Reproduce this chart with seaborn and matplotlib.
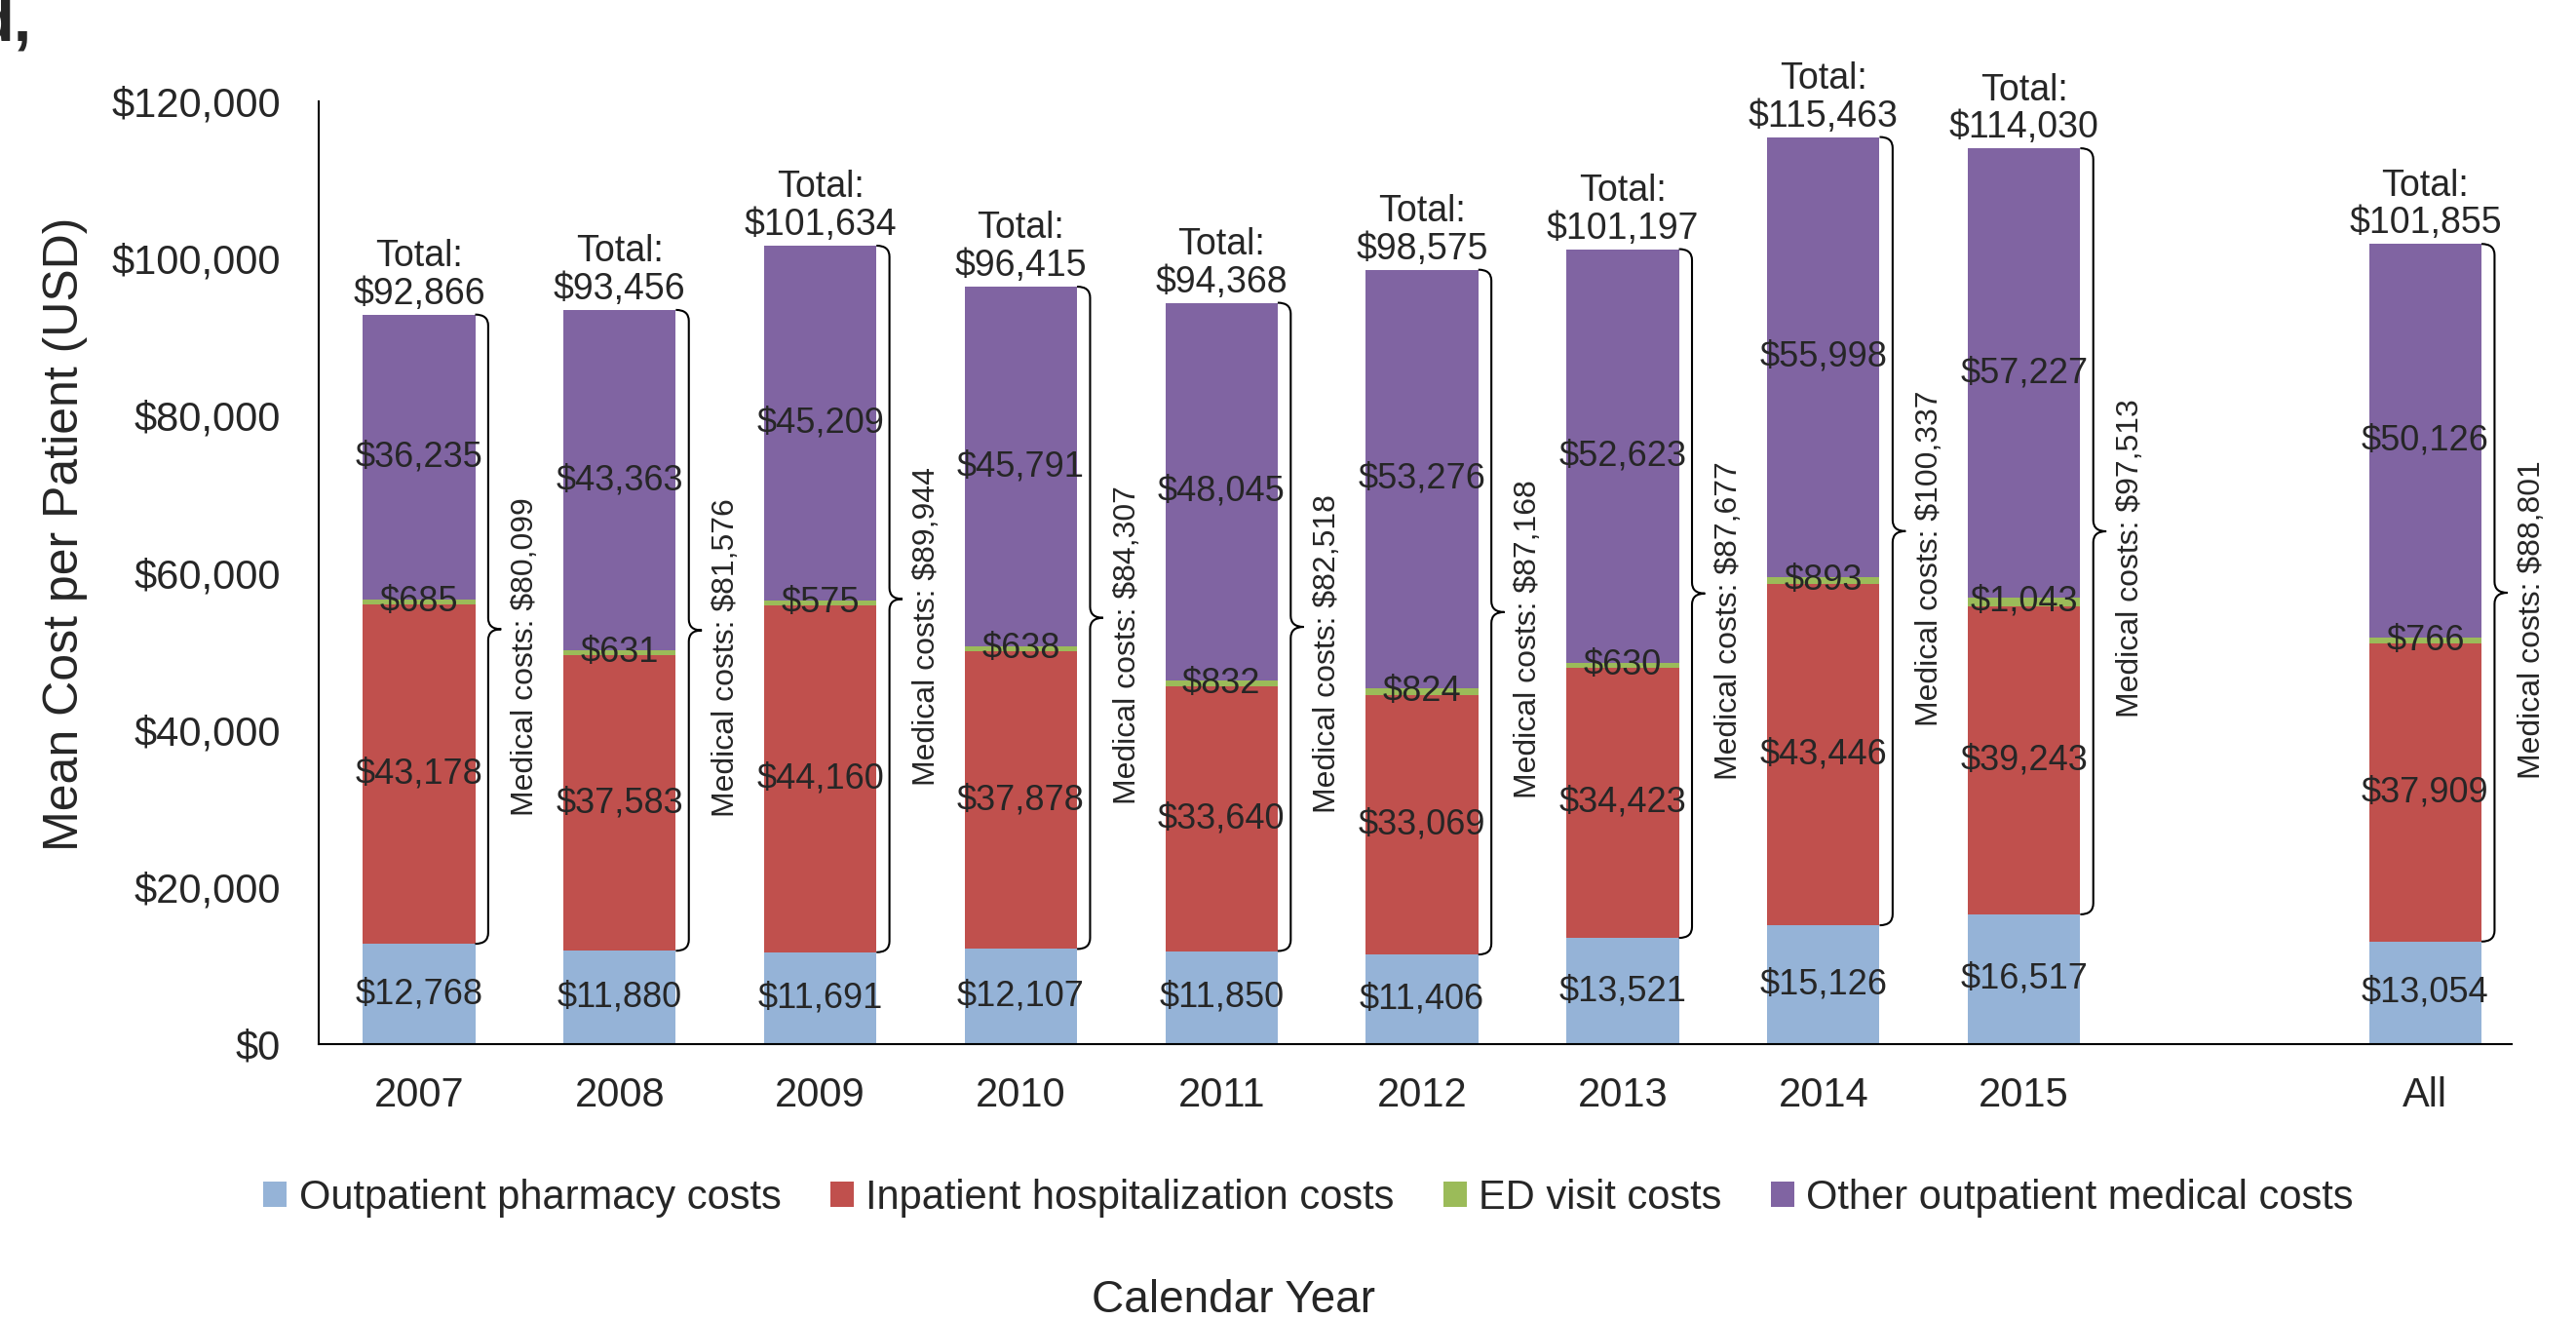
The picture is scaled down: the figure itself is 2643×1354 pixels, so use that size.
import numpy as np
import pandas as pd
import seaborn as sns
import matplotlib.pyplot as plt
from matplotlib.path import Path
from matplotlib.patches import PathPatch, Patch

# values
years = ['2007', '2008', '2009', '2010', '2011', '2012', '2013', '2014', '2015', 'All']
pharmacy = [12768, 11880, 11691, 12107, 11850, 11406, 13521, 15126, 16517, 13054]
inpatient = [43178, 37583, 44160, 37878, 33640, 33069, 34423, 43446, 39243, 37909]
ed_visit = [685, 631, 575, 638, 832, 824, 630, 893, 1043, 766]
other_outpatient = [36235, 43363, 45209, 45791, 48045, 53276, 52623, 55998, 57227, 50126]
totals = [92866, 93456, 101634, 96415, 94368, 98575, 101197, 115463, 114030, 101855]
medical = [80099, 81576, 89944, 84307, 82518, 87168, 87677, 100337, 97513, 88801]

series_names = ['Outpatient pharmacy costs', 'Inpatient hospitalization costs',
                'ED visit costs', 'Other outpatient medical costs']
colors = ['#95B3D7', '#C0504D', '#9BBB59', '#8064A2']

# empty slot between 2015 and All
order = years[:9] + [' '] + ['All']

sns.set_style('white')
plt.rcParams['font.family'] = ['Liberation Sans', 'DejaVu Sans']

df = pd.DataFrame({'year': years, 'pharm': pharmacy, 'inp': inpatient,
                   'ed': ed_visit, 'oth': other_outpatient})
cols = ['pharm', 'inp', 'ed', 'oth']
cum = df[cols].cumsum(axis=1)

fig = plt.figure(figsize=(26.43, 13.54), dpi=100)
ax = fig.add_axes([0.1237, 0.209, 0.8513, 0.7142])

bar_w = 0.56
# draw cumulative bars from the top layer down so they stack
for col, c in reversed(list(zip(cols, colors))):
    sns.barplot(x=df['year'], y=cum[col], order=order, color=c, saturation=1,
                width=bar_w, errorbar=None, linewidth=0, ax=ax)

ax.set_ylim(0, 120000)
ax.set_xlim(-0.5, 10.43)
ax.set_yticks(np.arange(0, 120001, 20000))
ax.yaxis.set_major_formatter(plt.FuncFormatter(lambda v, p: f'${v:,.0f}'))
ax.set_xlabel('')
ax.set_ylabel('')
ax.tick_params(axis='y', labelsize=30, length=0, pad=28)
ax.tick_params(axis='x', labelsize=30, length=0, pad=24)
for s in ['top', 'right']:
    ax.spines[s].set_visible(False)
for s in ['left', 'bottom']:
    ax.spines[s].set_color('black')
    ax.spines[s].set_linewidth(1.5)

xpos = [order.index(y) for y in years]

# segment labels
for i, x in enumerate(xpos):
    base = 0
    for col in cols:
        v = df[col][i]
        ax.text(x, base + v / 2, f'${v:,}', ha='center', va='center', fontsize=26)
        base += v
    ax.annotate(f'Total:\n${totals[i]:,}', xy=(x, totals[i]), xytext=(0, 2),
                textcoords='offset points', ha='center', va='bottom', fontsize=27,
                linespacing=1.1, annotation_clip=False)


def brace(ax, x, y0, y1):
    x_left = x + bar_w / 2
    x_line = x + 0.345
    x_tip = x + 0.41
    r = 1400
    mid = (y0 + y1) / 2
    verts = [(x_left, y1), (x_line, y1), (x_line, y1 - r),
             (x_line, mid + r), (x_line, mid), (x_tip, mid),
             (x_line, mid), (x_line, mid - r),
             (x_line, y0 + r), (x_line, y0), (x_left, y0)]
    codes = [Path.MOVETO, Path.CURVE3, Path.CURVE3,
             Path.LINETO, Path.CURVE3, Path.CURVE3,
             Path.CURVE3, Path.CURVE3,
             Path.LINETO, Path.CURVE3, Path.CURVE3]
    ax.add_patch(PathPatch(Path(verts, codes), fill=False, lw=1.5,
                           edgecolor='black', clip_on=False))
    return mid


for i, x in enumerate(xpos):
    mid = brace(ax, x, pharmacy[i], totals[i])
    ax.annotate(f'Medical costs: ${medical[i]:,}', xy=(x + 0.53, mid), xytext=(0, -20),
                textcoords='offset points', rotation=90, ha='center', va='center',
                fontsize=23, annotation_clip=False)

handles = [Patch(facecolor=c, edgecolor='none') for c in colors]
fig.legend(handles, series_names, loc='center', bbox_to_anchor=(0.508, 0.0923),
           ncol=4, frameon=False, fontsize=30, handlelength=0.58, handleheight=0.58,
           handletextpad=0.3, columnspacing=1.2)

fig.text(67 / 2643, 1 - 548 / 1354, 'Mean Cost per Patient (USD)', rotation=90,
         ha='center', va='center', fontsize=36)
fig.text(1265 / 2643, 0.031, 'Calendar Year', ha='center', va='top', fontsize=33)
fig.text(33 / 2643, 1 - 42 / 1354, 'd,', ha='right', va='baseline', fontsize=48,
         fontweight='bold')

fig.savefig('out.png', dpi=100)
